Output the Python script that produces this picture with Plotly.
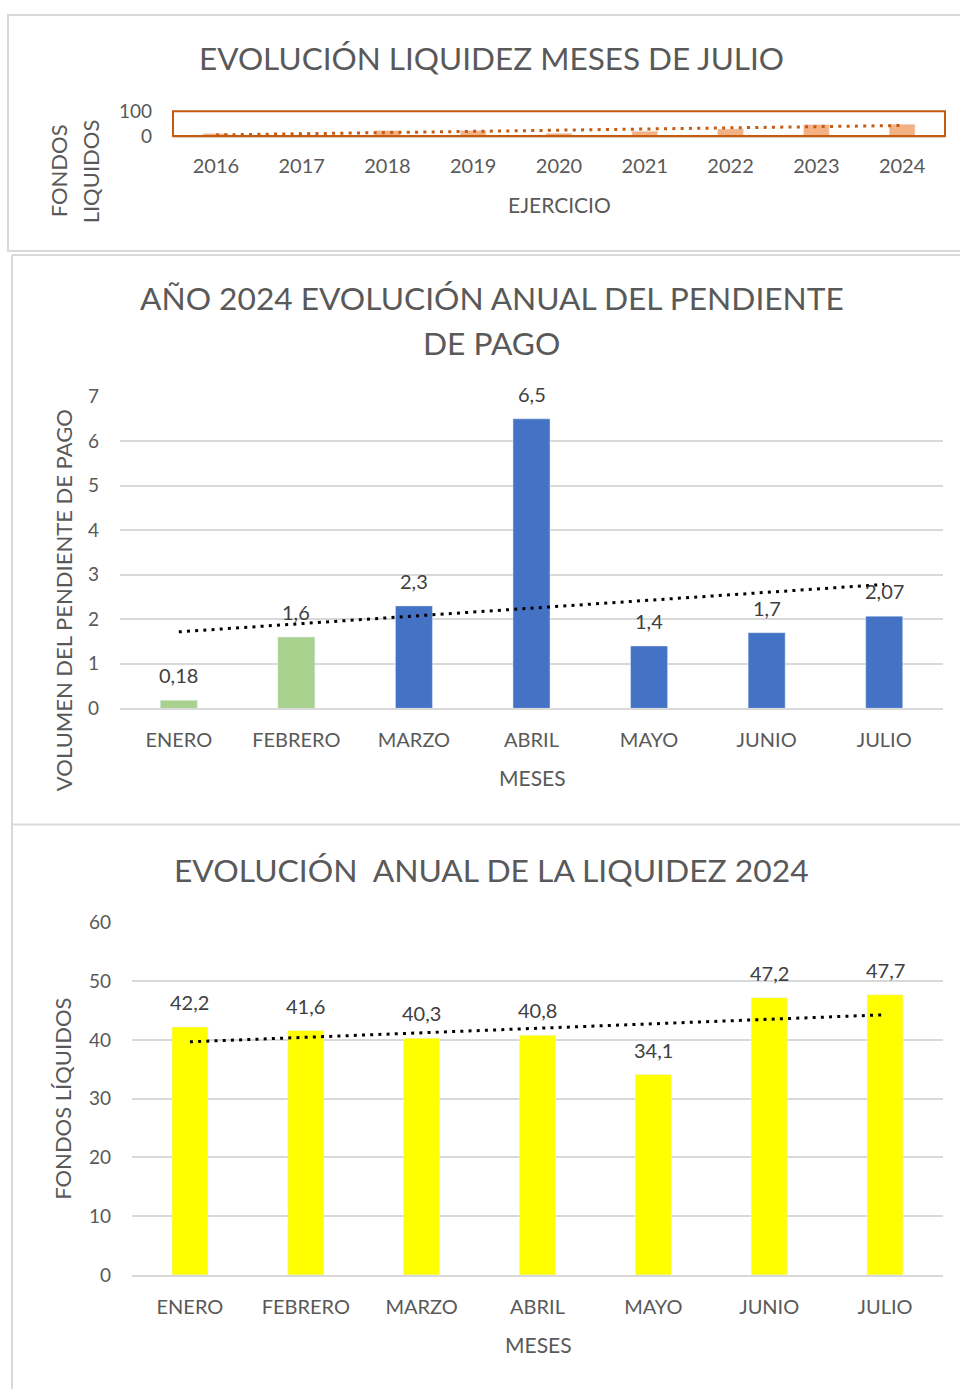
import numpy as np
import plotly.graph_objects as go

# ---------------- data ----------------
years = ["2016", "2017", "2018", "2019", "2020", "2021", "2022", "2023", "2024"]
july_funds = [9.7, 4, 22, 22, 11, 19.5, 28, 46, 47.7]

months = ["ENERO", "FEBRERO", "MARZO", "ABRIL", "MAYO", "JUNIO", "JULIO"]
pending = [0.18, 1.6, 2.3, 6.5, 1.4, 1.7, 2.07]
liquidity = [42.2, 41.6, 40.3, 40.8, 34.1, 47.2, 47.7]

# ---------------- helpers ----------------
W, H = 960, 1398
FONT = "Lato"
GREY = "#595959"
DARK = "#404040"


def px(x):
    return x / W


def py(y):
    return 1 - y / H


def trend(vals):
    idx = np.arange(len(vals))
    k, b = np.polyfit(idx, vals, 1)
    return [b, k * (len(vals) - 1) + b]


def fmt(v):
    return f"{v:g}".replace(".", ",")


fig = go.Figure()

# ---------------- chart 1 ----------------
fig.add_trace(go.Bar(x=years, y=july_funds, marker_color="#F4B183", width=0.30,
                     xaxis="x", yaxis="y", showlegend=False, hoverinfo="skip"))
fig.add_trace(go.Scatter(x=[years[0], years[-1]], y=trend(july_funds), mode="lines",
                         line=dict(color="#C55A11", width=3, dash="3px,5.3px"),
                         xaxis="x", yaxis="y", showlegend=False, hoverinfo="skip"))

# ---------------- chart 2 ----------------
bar2_colors = ["#A9D18E", "#A9D18E", "#4472C4", "#4472C4", "#4472C4", "#4472C4", "#4472C4"]
fig.add_trace(go.Bar(x=months, y=pending, marker_color=bar2_colors, width=0.315,
                     xaxis="x2", yaxis="y2", showlegend=False, hoverinfo="skip"))
fig.add_trace(go.Scatter(x=[months[0], months[-1]], y=trend(pending), mode="lines",
                         line=dict(color="#000000", width=3, dash="3px,5.2px"),
                         xaxis="x2", yaxis="y2", showlegend=False, hoverinfo="skip"))

# ---------------- chart 3 ----------------
fig.add_trace(go.Bar(x=months, y=liquidity, marker_color="#FFFF00", width=0.31,
                     xaxis="x3", yaxis="y3", showlegend=False, hoverinfo="skip"))
fig.add_trace(go.Scatter(x=[months[0], months[-1]], y=trend(liquidity), mode="lines",
                         line=dict(color="#000000", width=3, dash="3px,5.2px"),
                         xaxis="x3", yaxis="y3", showlegend=False, hoverinfo="skip"))

tickfont = dict(family=FONT, size=20, color=GREY)

annotations = []
for m, v in zip(months, pending):
    annotations.append(dict(x=m, y=v, xref="x2", yref="y2", text=fmt(v), showarrow=False,
                            yanchor="middle", yshift=25,
                            font=dict(family=FONT, size=20, color=DARK)))
for m, v in zip(months, liquidity):
    annotations.append(dict(x=m, y=v, xref="x3", yref="y3", text=fmt(v), showarrow=False,
                            yanchor="middle", yshift=25,
                            font=dict(family=FONT, size=20, color=DARK)))


def text_at(x, y, t, size, angle=0, color=GREY):
    annotations.append(dict(x=px(x), y=py(y), xref="paper", yref="paper", text=t,
                            showarrow=False, xanchor="center", yanchor="middle",
                            textangle=angle, font=dict(family=FONT, size=size, color=color)))


# titles
text_at(492, 47, "EVOLUCIÓN LIQUIDEZ MESES DE JULIO", 31.5)
text_at(492, 291, "AÑO 2024 EVOLUCIÓN ANUAL DEL PENDIENTE", 31.7)
text_at(492, 337, "DE PAGO", 31.7)
text_at(492, 872, "EVOLUCIÓN  ANUAL DE LA LIQUIDEZ 2024", 31.8)
# axis titles
text_at(559, 196, "EJERCICIO", 21)
text_at(532, 778, "MESES", 21)
text_at(538, 1355, "MESES", 21)
text_at(58, 162, "FONDOS", 22, -90)
text_at(90, 162, "LIQUIDOS", 22, -90)
text_at(63, 598, "VOLUMEN DEL PENDIENTE DE PAGO", 22, -90)
text_at(63, 1105, "FONDOS LÍQUIDOS", 22, -90)

shapes = [
    # container borders
    dict(type="rect", xref="paper", yref="paper", x0=px(8), x1=px(962), y0=py(243), y1=py(3),
         line=dict(color="#D9D9D9", width=2)),
    dict(type="line", xref="paper", yref="paper", x0=px(12), x1=px(962), y0=py(247), y1=py(247),
         line=dict(color="#D9D9D9", width=2)),
    dict(type="line", xref="paper", yref="paper", x0=px(12), x1=px(12), y0=py(247), y1=py(1400),
         line=dict(color="#D9D9D9", width=2)),
    dict(type="line", xref="paper", yref="paper", x0=px(12), x1=px(962), y0=py(826), y1=py(826),
         line=dict(color="#D9D9D9", width=2)),
    # chart 1 plot-area border
    dict(type="rect", xref="x domain", yref="y domain", x0=0, x1=1, y0=0, y1=1,
         line=dict(color="#C55A11", width=2), layer="above"),
]

fig.update_layout(
    width=W, height=H, margin=dict(l=0, r=0, t=0, b=0),
    paper_bgcolor="white", plot_bgcolor="white",
    separators=",.",
    bargap=0.7,
    annotations=annotations, shapes=shapes,
    xaxis=dict(domain=[px(173), px(945)], anchor="y", type="category", tickfont=tickfont,
               showline=True, linecolor="#DECDC2", linewidth=2, showgrid=False,
               ticks="", ticklabelstandoff=11, fixedrange=True),
    yaxis=dict(domain=[py(126), py(101)], anchor="x", range=[0, 100], tickvals=[0, 100],
               tickfont=dict(family=FONT, size=19, color=GREY), showgrid=False, zeroline=False,
               ticks="", ticklabelstandoff=20, fixedrange=True),
    xaxis2=dict(domain=[px(120), px(943)], anchor="y2", type="category", tickfont=tickfont,
                showline=True, linecolor="#D9D9D9", linewidth=1.5, showgrid=False,
                ticks="", ticklabelstandoff=13, fixedrange=True),
    yaxis2=dict(domain=[py(708), py(391)], anchor="x2", range=[0, 7], dtick=1,
                tickfont=dict(family=FONT, size=19, color=GREY), showgrid=True,
                gridcolor="#D9D9D9", gridwidth=1.5, zeroline=False,
                ticks="", ticklabelstandoff=20, fixedrange=True),
    xaxis3=dict(domain=[px(132), px(943)], anchor="y3", type="category", tickfont=tickfont,
                showline=True, linecolor="#D9D9D9", linewidth=1.5, showgrid=False,
                ticks="", ticklabelstandoff=13, fixedrange=True),
    yaxis3=dict(domain=[py(1284), py(925.7)], anchor="x3", range=[0, 60], dtick=10,
                tickfont=dict(family=FONT, size=19, color=GREY), showgrid=True,
                gridcolor="#D9D9D9", gridwidth=1.5, zeroline=False,
                ticks="", ticklabelstandoff=20, fixedrange=True),
)

fig.write_html(
    "out.html",
    config={"displayModeBar": False},
    post_script="document.body.style.margin='0';document.body.style.padding='0';"
                "document.body.style.overflow='hidden';",
)
